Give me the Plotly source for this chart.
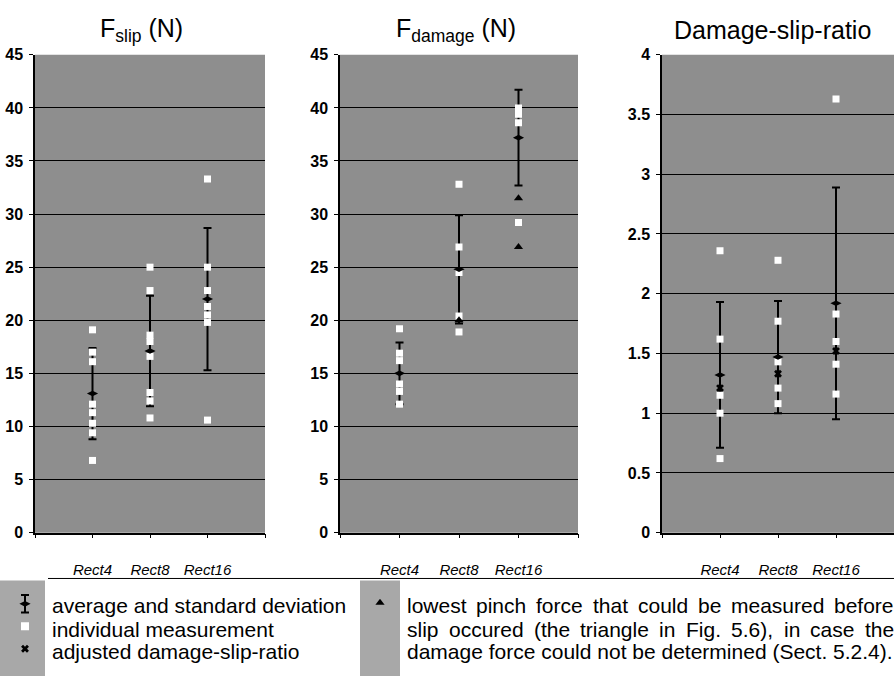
import plotly.graph_objects as go

# ---------------- data ----------------
categories = ["Rect4", "Rect8", "Rect16"]

slip_rect4 = [19.1, 17.0, 16.1, 12.1, 11.3, 10.3, 9.4, 6.8]
slip_rect8 = [25.0, 22.8, 18.6, 18.0, 16.6, 13.2, 12.4, 10.8]
slip_rect16 = [33.3, 25.0, 22.8, 21.3, 20.5, 19.8, 10.6]
slip_mean = [13.1, 17.1, 22.0]
slip_sd = [4.3, 5.2, 6.7]

damage_rect4 = [19.2, 16.9, 16.2, 14.0, 13.3, 12.1]
damage_rect8 = [32.8, 26.9, 24.5, 20.4, 18.9]
damage_rect16 = [40.0, 39.4, 38.6, 29.2]
damage_mean = [15.0, 24.8, 37.2]
damage_sd = [2.9, 5.1, 4.5]
lowest_cat = ["Rect8", "Rect16", "Rect16"]
lowest_val = [20.0, 31.5, 26.9]

ratio_rect4 = [2.36, 1.62, 1.15, 1.00, 0.62]
ratio_rect8 = [2.28, 1.77, 1.43, 1.21, 1.08]
ratio_rect16 = [3.63, 1.83, 1.60, 1.41, 1.16]
ratio_mean = [1.32, 1.47, 1.92]
ratio_sd = [0.61, 0.47, 0.97]
ratio_adjusted = [1.21, 1.33, 1.52]

force_ticks = [0, 5, 10, 15, 20, 25, 30, 35, 40, 45]
ratio_ticks = [0, 0.5, 1, 1.5, 2, 2.5, 3, 3.5, 4]

titles = ["F<sub>slip</sub> (N)", "F<sub>damage</sub> (N)", "Damage-slip-ratio"]
legend_left = ["average and standard deviation", "individual measurement",
               "adjusted damage-slip-ratio"]
legend_right = ["lowest pinch force that could be measured before",
                "slip occured (the triangle in Fig. 5.6), in case the",
                "damage force could not be determined (Sect. 5.2.4)."]

# ---------------- geometry ----------------
W, H = 894, 685
FONT = "Liberation Sans, Arial, Helvetica, sans-serif"
PLOT_GRAY = "#8e8e8e"
SWATCH_GRAY = "#a8a8a8"


def px(x):
    return x / W


def py(y):
    return 1 - y / H


panels_x = [(35, 265), (340, 578), (662, 894)]
panel_top, panel_bottom = 48, 538
title_x = [141, 456, 772]

pos = {c: i + 1 for i, c in enumerate(categories)}


def xs_for(cat, vals):
    return [pos[cat]] * len(vals)


fig = go.Figure()

panel_data = [
    ([slip_rect4, slip_rect8, slip_rect16], slip_mean, slip_sd),
    ([damage_rect4, damage_rect8, damage_rect16], damage_mean, damage_sd),
    ([ratio_rect4, ratio_rect8, ratio_rect16], ratio_mean, ratio_sd),
]

for i, (indiv, mean, sd) in enumerate(panel_data):
    n = "" if i == 0 else str(i + 1)
    xa, ya = "x" + n, "y" + n
    cat_x = [pos[c] for c in categories]
    # error bars
    fig.add_trace(go.Scatter(
        x=cat_x, y=mean, mode="markers", xaxis=xa, yaxis=ya,
        marker=dict(color="rgba(0,0,0,0)", size=1),
        error_y=dict(type="data", array=sd, color="black", thickness=2, width=4),
        showlegend=False, hoverinfo="skip"))
    # individual measurements
    ix, iy = [], []
    for c, vals in zip(categories, indiv):
        ix += xs_for(c, vals)
        iy += vals
    fig.add_trace(go.Scatter(
        x=ix, y=iy, mode="markers", xaxis=xa, yaxis=ya,
        marker=dict(symbol="square", size=7, color="white", line=dict(width=0)),
        showlegend=False))
    # average marker
    fig.add_trace(go.Scatter(
        x=cat_x, y=mean, mode="markers", xaxis=xa, yaxis=ya,
        marker=dict(symbol="diamond-wide", size=8, color="black"),
        showlegend=False))
    if i == 1:
        fig.add_trace(go.Scatter(
            x=[pos[c] for c in lowest_cat], y=lowest_val, mode="markers",
            xaxis=xa, yaxis=ya,
            marker=dict(symbol="triangle-up", size=8, color="black"),
            showlegend=False))
    if i == 2:
        fig.add_trace(go.Scatter(
            x=cat_x, y=ratio_adjusted, mode="markers", xaxis=xa, yaxis=ya,
            marker=dict(symbol="x", size=7, color="black"),
            showlegend=False))

# legend icons on an auxiliary, hidden axis (pixel space)
leg_icon_x = [25, 25, 25, 380]
leg_icon_y = [611, 634, 657, 610]
fig.add_trace(go.Scatter(
    x=[leg_icon_x[0]], y=[leg_icon_y[0]], mode="markers", xaxis="x4", yaxis="y4",
    marker=dict(symbol="diamond-wide", size=8, color="black"),
    error_y=dict(type="data", array=[9], color="black", thickness=2, width=4),
    showlegend=False))
fig.add_trace(go.Scatter(
    x=[leg_icon_x[1]], y=[leg_icon_y[1]], mode="markers", xaxis="x4", yaxis="y4",
    marker=dict(symbol="square", size=8, color="white"), showlegend=False))
fig.add_trace(go.Scatter(
    x=[leg_icon_x[2]], y=[leg_icon_y[2]], mode="markers", xaxis="x4", yaxis="y4",
    marker=dict(symbol="x", size=7, color="black"), showlegend=False))
fig.add_trace(go.Scatter(
    x=[leg_icon_x[3]], y=[leg_icon_y[3]], mode="markers", xaxis="x4", yaxis="y4",
    marker=dict(symbol="triangle-up", size=8, color="black"), showlegend=False))

layout = dict(
    width=W, height=H, margin=dict(l=0, r=0, t=0, b=0),
    paper_bgcolor="white", plot_bgcolor="rgba(0,0,0,0)",
    font=dict(family=FONT, color="black"),
    showlegend=False,
)

shapes = []
annotations = []
for i, ((x0, x1), ticks) in enumerate(zip(panels_x, [force_ticks, force_ticks, ratio_ticks])):
    n = "" if i == 0 else str(i + 1)
    layout["xaxis" + n] = dict(
        domain=[px(x0), px(x1)], anchor="y" + n, range=[0, 4],
        tickmode="array", tickvals=[1, 2, 3], ticktext=categories,
        ticks="outside", ticklen=4, tickcolor="black", tickwidth=1,
        minor=dict(tickmode="array", tickvals=[0, 4], ticks="outside", ticklen=4,
                   tickcolor="black", tickwidth=1, showgrid=False),
        showgrid=False, zeroline=False, showline=True, linecolor="black", linewidth=1.5,
        tickfont=dict(size=15, family=FONT, style="italic"),
        ticklabelstandoff=19, fixedrange=True)
    layout["yaxis" + n] = dict(
        domain=[py(panel_bottom), py(panel_top)], anchor="x" + n,
        range=[ticks[0], ticks[-1]], tickmode="array", tickvals=ticks,
        ticks="outside", ticklen=4, tickcolor="black", tickwidth=1,
        showgrid=False, zeroline=False, showline=True, linecolor="black", linewidth=1.5,
        tickfont=dict(size=16, family=FONT, weight="bold"),
        ticklabelstandoff=3,
        minor=dict(tickmode="array", tickvals=ticks[1:-1], showgrid=True,
                   gridcolor="black", gridwidth=1.3, ticks=""),
        fixedrange=True)
    shapes.append(dict(type="rect", xref="x" + n + " domain", yref="y" + n + " domain",
                       x0=0, x1=1, y0=0, y1=1, fillcolor=PLOT_GRAY,
                       line=dict(width=0), layer="below"))
    annotations.append(dict(text=titles[i], x=px(title_x[i]), y=py(23), xref="paper",
                            yref="paper", xanchor="center", yanchor="middle",
                            showarrow=False, font=dict(size=25, family=FONT)))

layout["xaxis4"] = dict(domain=[0, 1], anchor="y4", range=[0, W], visible=False,
                        fixedrange=True)
layout["yaxis4"] = dict(domain=[0, py(587)], anchor="x4", range=[H, 587],
                        visible=False, fixedrange=True)

# legend swatches and separator line
shapes.append(dict(type="rect", xref="paper", yref="paper", x0=0, x1=px(45),
                   y0=0, y1=py(587), fillcolor=SWATCH_GRAY, line=dict(width=0),
                   layer="below"))
shapes.append(dict(type="rect", xref="paper", yref="paper", x0=px(360), x1=px(400),
                   y0=0, y1=py(587), fillcolor=SWATCH_GRAY, line=dict(width=0),
                   layer="below"))
shapes.append(dict(type="line", xref="paper", yref="paper", x0=px(48), x1=1,
                   y0=py(585), y1=py(585), line=dict(color="black", width=1)))

LEG_SIZE = 21
line_y = [613, 637, 660]
for t, yy in zip(legend_left, line_y):
    annotations.append(dict(text=t, x=px(50), y=py(yy), xref="paper", yref="paper",
                            xanchor="left", yanchor="middle", showarrow=False,
                            font=dict(size=LEG_SIZE, family=FONT)))

# Arial / Liberation Sans advance widths (per 1000 em)
AFM = {" ": 278, "(": 333, ")": 333, ",": 278, "-": 333, ".": 278,
       "a": 556, "b": 556, "c": 500, "d": 556, "e": 556, "f": 278, "g": 556,
       "h": 556, "i": 222, "j": 222, "k": 500, "l": 222, "m": 833, "n": 556,
       "o": 556, "p": 556, "q": 556, "r": 333, "s": 500, "t": 278, "u": 556,
       "v": 500, "w": 722, "x": 500, "y": 500, "z": 500, "F": 611, "S": 667}


def text_w(s, size):
    return sum(AFM.get(ch, 556) for ch in s) * size / 1000.0


x_left, x_right = 405, 892
for k, (t, yy) in enumerate(zip(legend_right, line_y)):
    words = t.split(" ")
    if k < len(legend_right) - 1:
        total = sum(text_w(w, LEG_SIZE) for w in words)
        gap = (x_right - x_left - total) / (len(words) - 1)
        xcur = x_left
        for w in words:
            annotations.append(dict(text=w, x=px(xcur), y=py(yy), xref="paper",
                                    yref="paper", xanchor="left", yanchor="middle",
                                    showarrow=False, font=dict(size=LEG_SIZE, family=FONT)))
            xcur += text_w(w, LEG_SIZE) + gap
    else:
        annotations.append(dict(text=t, x=px(x_left), y=py(yy), xref="paper",
                                yref="paper", xanchor="left", yanchor="middle",
                                showarrow=False, font=dict(size=LEG_SIZE, family=FONT)))

layout["shapes"] = shapes
layout["annotations"] = annotations
fig.update_layout(**layout)

fig.write_html("out.html")
